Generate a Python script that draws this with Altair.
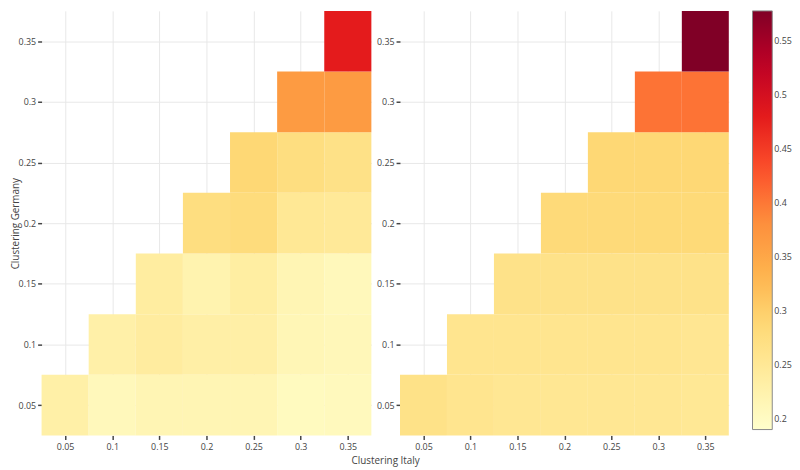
import altair as alt
import pandas as pd
import numpy as np

# ---- data ----
italy = [0.05, 0.1, 0.15, 0.2, 0.25, 0.3, 0.35]
germany = [0.05, 0.1, 0.15, 0.2, 0.25, 0.3, 0.35]

# rows indexed by germany value; each row lists values for italy >= germany
left_values = [
    [0.231, 0.209, 0.217, 0.217, 0.217, 0.204, 0.206],
    [0.230, 0.240, 0.232, 0.232, 0.214, 0.211],
    [0.238, 0.222, 0.236, 0.217, 0.209],
    [0.275, 0.280, 0.251, 0.248],
    [0.288, 0.275, 0.267],
    [0.366, 0.366],
    [0.480],
]
right_values = [
    [0.266, 0.258, 0.254, 0.254, 0.254, 0.254, 0.251],
    [0.258, 0.258, 0.258, 0.258, 0.258, 0.255],
    [0.265, 0.265, 0.265, 0.265, 0.265],
    [0.284, 0.284, 0.285, 0.285],
    [0.288, 0.288, 0.288],
    [0.404, 0.404],
    [0.578],
]

tick_values = [0.05, 0.1, 0.15, 0.2, 0.25, 0.3, 0.35]
legend_values = [0.2, 0.25, 0.3, 0.35, 0.4, 0.45, 0.5, 0.55]
colors = ["#ffffcc", "#ffeda0", "#fed976", "#feb24c", "#fd8d3c",
          "#fc4e2a", "#e31a1c", "#bd0026", "#800026"]
color_min, color_max = 0.19, 0.578


def frame(values):
    rows = []
    for gi, row in enumerate(values):
        g = germany[gi]
        for x, v in zip(italy[gi:], row):
            rows.append({"italy": x, "germany": g, "value": v})
    return pd.DataFrame(rows)


color_domain = list(np.linspace(color_min, color_max, len(colors)))
color_scale = alt.Scale(domain=color_domain, range=colors, interpolate="rgb")

FONT = "Open Sans"
half = 0.025
LEFT_W, RIGHT_W, GAP = 334, 333, 29


def panel(df, show_title, width):
    xaxis = alt.Axis(values=tick_values, format=".2~f", grid=True, domain=False,
                     gridColor="#e8e8e8", tickColor="#444", tickSize=4, tickWidth=1.5,
                     labelFontSize=9, labelColor="#444", labelFont=FONT, labelPadding=3,
                     title="Clustering Italy" if show_title else None,
                     titleFont=FONT, titleFontSize=10, titleFontWeight="normal",
                     titleColor="#444", titleX=(LEFT_W + GAP + RIGHT_W) / 2,
                     titleAlign="center", titlePadding=4)
    yaxis = alt.Axis(values=tick_values, format=".2~f", grid=True, domain=False,
                     gridColor="#e8e8e8", tickColor="#444", tickSize=4, tickWidth=1.5,
                     labelFontSize=9, labelColor="#444", labelFont=FONT, labelPadding=2,
                     title="Clustering Germany" if show_title else None,
                     titleFont=FONT, titleFontSize=10, titleFontWeight="normal",
                     titleColor="#444", titleX=-21)
    return alt.Chart(df).transform_calculate(
        x0=f"datum.italy - {half}", x1=f"datum.italy + {half}",
        y0=f"datum.germany - {half}", y1=f"datum.germany + {half}",
    ).mark_rect().encode(
        x=alt.X("x0:Q", scale=alt.Scale(domain=[0.025, 0.375], nice=False, zero=False), axis=xaxis),
        x2="x1:Q",
        y=alt.Y("y0:Q", scale=alt.Scale(domain=[0.025, 0.375], nice=False, zero=False), axis=yaxis),
        y2="y1:Q",
        color=alt.Color("value:Q", scale=color_scale,
                        legend=alt.Legend(title=None, values=legend_values, format=".2~f",
                                          gradientLength=424, gradientThickness=20,
                                          gradientStrokeColor="#888", gradientStrokeWidth=1,
                                          labelFontSize=9, labelColor="#444", labelFont=FONT,
                                          offset=24, padding=0)),
    ).properties(width=width, height=430)


left = panel(frame(left_values), True, LEFT_W)
right = panel(frame(right_values), False, RIGHT_W)

chart = alt.hconcat(left, right, spacing=GAP, bounds="flush").resolve_scale(color="shared").properties(
    padding={"left": 3, "top": 0, "right": 0, "bottom": 0}
).configure_view(stroke=None)

chart.save("out.html", embed_options={"renderer": "svg", "actions": False})
